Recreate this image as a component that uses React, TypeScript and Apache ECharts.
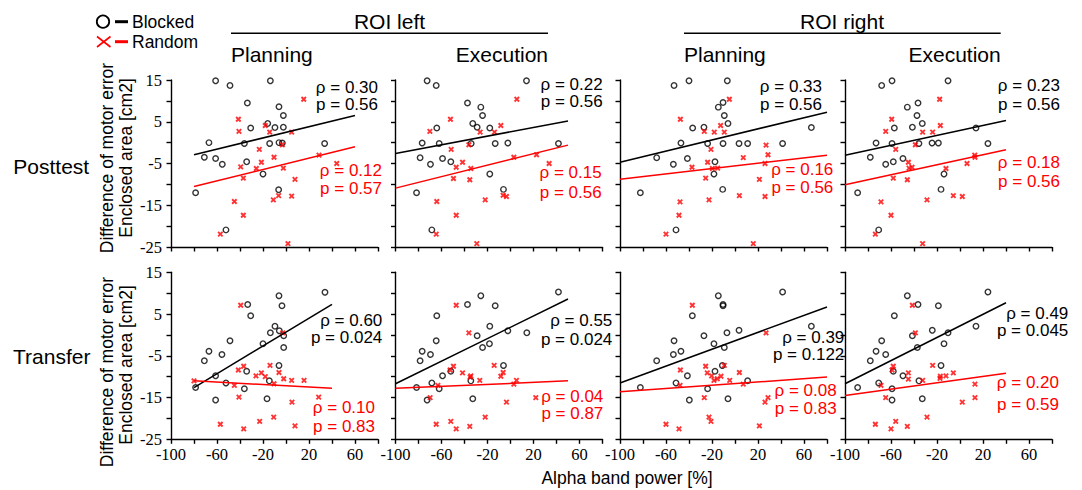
import React, { useEffect, useRef } from "react";
import * as echarts from "echarts";

const SANS = "'Liberation Sans', Arial, Helvetica, sans-serif";
const SERIF = "'Liberation Serif', 'Times New Roman', Times, serif";

// ---------- tick labels ----------
const xTickLabels = [-100, -60, -20, 20, 60];
const yTickLabels = [15, 5, -5, -15, -25];

// ---------- data: Posttest, ROI left, Planning ----------
const postLPlanBlocked = [[-61.2,14.8],[-48.7,13.7],[-13.6,14.8],[-33.6,9.5],[-6.1,8.6],[-2.3,6.5],[-15.9,4.6],[-30.7,3.5],[-9.6,3.6],[-2.3,3.7],[-67,0],[-36.2,-0.2],[-14.2,-0.2],[-6.1,0],[-3.2,-0.1],[33.6,-0.2],[-71,-3.5],[-61.2,-3.8],[-55.4,-5.2],[-34.2,-4.6],[-20,-7.5],[-78.6,-12],[-6.4,-11.3],[-52.2,-20.9]];
const postLPlanRandom = [[15.4,10.4],[-41.4,5.6],[-40.9,2.7],[-18,4.1],[-14.2,2.5],[4.9,2.5],[-3.2,-0.5],[-23.2,-1.6],[-10.4,-3.5],[-21.4,-4.7],[-39.4,-5.8],[-25.8,-6.2],[-2.3,-6.1],[-37.1,-8.5],[7.8,-8.8],[28.7,-3],[44.1,-5],[-6.4,-12.7],[-11,-13.7],[4.9,-12.8],[-44.9,-14.1],[-37.1,-17.4],[-57.1,-21.9],[1.7,-24.2]];
const postLPlanFitB = [[-80,-2.9],[60,6.5]];
const postLPlanFitR = [[-80,-10.5],[60,-1.0]];

// ---------- Posttest, ROI left, Execution ----------
const postLExecBlocked = [[-72.5,14.8],[-64.6,13.7],[13.9,14.8],[-37.4,9.5],[-25.8,8.5],[-24.3,6.5],[-32.8,4.6],[-29,3.7],[-18,3.5],[-64.1,3.5],[-76.8,-0.1],[-62,-0.2],[-34.2,-0.2],[-13.3,-0.2],[-2.3,-0.1],[41.7,-0.2],[-78.6,-3.6],[-59.1,-3.8],[-69.6,-5.2],[-51.9,-4.6],[-18,-7.5],[-81.7,-12],[-6.1,-11.2],[-68.4,-20.9]];
const postLExecRandom = [[5.5,10.4],[-52.2,5.6],[-70.1,2.7],[-8.4,4.1],[-26.4,2.5],[-13.9,2.5],[-36.2,-0.5],[-51.6,-1.6],[2.9,-3.5],[-41.7,-4.7],[-47.2,-5.9],[-34.5,-6.2],[22.6,-2.9],[33.6,-5],[-49.6,-8.6],[-35.4,-8.9],[-6.4,-12.6],[-3.5,-12.9],[-22,-13.7],[-64.1,-14.1],[-47.2,-17.4],[-64.6,-21.9],[-29.3,-24.2]];
const postLExecFitB = [[-100,-2.6],[50,5.2]];
const postLExecFitR = [[-100,-10.9],[50,-0.6]];

// ---------- Posttest, ROI right, Planning ----------
const postRPlanBlocked = [[-53,13.7],[-40,14.8],[-6.7,14.8],[-10.4,9.6],[-14.5,8.5],[-9.3,6.5],[-6.1,4.6],[-36.8,3.5],[-27,3.7],[66.4,3.6],[-47,-0.1],[-23.8,-0.2],[-10.4,-0.2],[3.5,-0.2],[11,-0.2],[41.4,-0.2],[-68.1,-3.6],[-41.4,-3.8],[-53.6,-5.2],[-17.4,-4.6],[-18.3,-7.5],[-82.3,-12],[-10.7,-11.2],[-51.3,-20.9]];
const postRPlanRandom = [[-4.9,10.4],[-47.5,5.6],[-26.7,2.7],[-12.5,4.1],[-18,2.5],[-9.3,2.5],[-20.9,-1.6],[27,-0.6],[7.2,-3.6],[28.7,-2.9],[-23.8,-4.7],[26.1,-5],[-37.4,-5.9],[-19.7,-6.2],[-15.1,-6.1],[-25.5,-8.5],[21.2,-8.8],[3.8,-12.7],[26.1,-12.9],[-22.6,-13.7],[-47.8,-14.2],[-48.7,-17.4],[-60,-21.9],[15.9,-24.2]];
const postRPlanFitB = [[-100,-4.7],[80,7.3]];
const postRPlanFitR = [[-100,-8.8],[80,-3.0]];

// ---------- Posttest, ROI right, Execution ----------
const postRExecBlocked = [[-68.1,13.7],[-59.1,14.8],[-10.4,14.8],[-36.5,9.5],[-45.8,8.5],[-37.4,6.5],[-32.8,4.6],[-57.1,3.5],[-41.4,3.7],[13.9,3.5],[-73,-0.1],[-59.1,-0.2],[-35.7,-0.2],[-24.3,-0.1],[-18.8,-0.1],[24.3,-0.2],[-78,-3.5],[-58,-4.6],[-64.6,-5.2],[-49.6,-3.8],[-13.9,-7.5],[-89,-12],[-16.5,-11.2],[-70.7,-20.9]];
const postRExecRandom = [[-17.7,10.4],[-59.4,5.6],[-64.6,2.7],[-17.1,4.1],[-32.5,2.5],[-23.8,2.5],[-38.8,-0.5],[-55.9,-1.6],[12.8,-3],[13,-3.5],[-44.9,-4.7],[-41.7,-5.9],[-44.3,-6.1],[6.1,-5],[-12.2,-6.2],[-58,-8.5],[-45.8,-8.9],[-5.8,-12.7],[2,-12.9],[-28.7,-13.7],[-68.7,-14.2],[-60,-17.4],[-73.6,-21.9],[-32.5,-24.2]];
const postRExecFitB = [[-100,-3.0],[40,5.3]];
const postRExecFitR = [[-100,-10.1],[40,-1.7]];

// ---------- Transfer, ROI left, Planning ----------
const transLPlanBlocked = [[33.9,10.2],[-6.1,9.4],[-33.3,7.3],[-3.5,7],[-30.7,4.6],[-9.6,2.1],[-5.8,1],[-13.6,0.5],[-2,-0.2],[-48.7,-1.4],[-20,-2.1],[-67,-3.9],[-2,-3],[-55.7,-4.7],[-71,-6.2],[-6.1,-7.3],[-34.2,-8.7],[-61.2,-9.8],[-52.2,-11.5],[-14.5,-11],[-78.6,-12.6],[-36.2,-12.9],[-61.2,-15.6],[-16.5,-15.3]];
const transLPlanRandom = [[-39.4,7.1],[-2.9,0.5],[-13.9,-7.3],[-36.8,-7.5],[-41.4,-8.4],[-21.4,-9.1],[-26.1,-9.8],[-18,-10],[-6.1,-9],[-2,-10.5],[4.9,-10.9],[15.7,-10.9],[-10.4,-11.7],[-44.9,-12.1],[-40.9,-14.9],[5.2,-16.1],[28.4,-14.9],[-10.7,-19.7],[-22.9,-20.7],[-57.1,-21.4],[-36.8,-22.5],[7.8,-21.8],[-80,-11]];
const transLPlanFitB = [[-80,-12.6],[40,7.3]];
const transLPlanFitR = [[-80,-11.0],[40,-12.8]];

// ---------- Transfer, ROI left, Execution ----------
const transLExecBlocked = [[41.7,10.3],[-25.8,9.4],[-37.4,7.3],[-13.3,7],[-64.1,4.6],[-18,2.1],[-2.3,1],[14.2,0.5],[-29,-0.2],[-64.6,-1.4],[-18.3,-2.1],[-76.8,-3.9],[-24.3,-3],[-69.6,-4.7],[-78.6,-6.2],[-6.1,-7.3],[-51.9,-8.7],[-59.1,-9.8],[-68.4,-11.5],[-34.5,-11],[-81.7,-12.6],[-62,-12.9],[-72.5,-15.6],[-32.8,-15.3]];
const transLExecRandom = [[-47.2,7.1],[-36.2,0.5],[-14.2,-7.3],[-49.6,-7.5],[-52.5,-8.4],[-41.7,-9.1],[-34.5,-9.8],[-35.1,-10.1],[-6.4,-9],[-8.4,-9.9],[5.2,-10.9],[-26.7,-10.9],[2.9,-11.8],[-63.2,-12.1],[-69.9,-15],[-3.5,-16.1],[22,-15],[-22,-19.7],[-51.9,-20.7],[-64.6,-21.4],[-35.4,-21.9],[-47.2,-22.5]];
const transLExecFitB = [[-100,-11.7],[50,8.6]];
const transLExecFitR = [[-100,-12.8],[50,-11.0]];

// ---------- Transfer, ROI right, Planning ----------
const transRPlanBlocked = [[41.4,10.3],[-14.5,9.4],[-10.4,7.3],[-10.4,7],[-37.1,4.6],[66.4,2.1],[3.5,1.1],[-7,0.5],[-27,-0.2],[-53,-1.4],[-18.3,-2.1],[-47,-3.9],[-9.3,-3],[-53.6,-4.7],[-68.1,-6.2],[-11,-7.3],[-17.4,-8.7],[-41.4,-9.8],[-51.3,-11.5],[11,-11],[-82.3,-12.6],[-23.8,-12.9],[-39.7,-15.6],[-6.1,-15.3]];
const transRPlanRandom = [[-37.1,7.1],[27,0.5],[-9.3,-7.3],[-25.5,-7.5],[-47.5,-8.4],[-24.1,-9.1],[-20.3,-9.8],[-12.2,-9.9],[3.8,-9],[-18.3,-10.9],[-15.4,-10.5],[-4.6,-10.9],[7.2,-11.8],[-47.8,-12.1],[-26.7,-15],[26.1,-16.1],[28.7,-15],[-22.6,-19.7],[-20.9,-20.7],[-60,-21.4],[21.2,-21.8],[-48.7,-22.5]];
const transRPlanFitB = [[-100,-11.5],[80,6.7]];
const transRPlanFitR = [[-100,-13.6],[80,-10.1]];

// ---------- Transfer, ROI right, Execution ----------
const transRExecBlocked = [[24.3,10.3],[-45.8,9.4],[-36.5,7.3],[-18.8,7],[-57.1,4.6],[13.9,2.1],[-24.1,1.1],[-10.4,0.5],[-41.4,-0.2],[-68.1,-1.4],[-13.9,-2.1],[-73,-3.9],[-37.1,-3],[-64.6,-4.7],[-78,-6.2],[-16.5,-7.3],[-58,-8.7],[-49.6,-9.8],[-70.7,-11.5],[-35.7,-11],[-89,-12.6],[-59.1,-12.9],[-59.1,-15.6],[-32.8,-15.3]];
const transRExecRandom = [[-41.4,7.1],[-38.8,0.5],[-23.8,-7.3],[-58,-7.5],[-59.1,-8.4],[-5.8,-9.1],[-44.9,-9.1],[-17.1,-9.9],[-12.2,-9.8],[-17.4,-10.4],[-44.9,-10.6],[-32.5,-10.9],[13,-11.8],[-68.7,-12.1],[-64.6,-15],[2,-16.1],[13,-15],[-28.7,-19.7],[-55.9,-20.7],[-73.6,-21.4],[-45.8,-21.9],[-60,-22.5]];
const transRExecFitB = [[-100,-11.7],[40,7.7]];
const transRExecFitR = [[-100,-14.5],[40,-9.2]];

// ---------- statistics ----------
const rhoBlocked = ["0.30", "0.22", "0.33", "0.23", "0.60", "0.55", "0.39", "0.49"];
const pBlocked = ["0.56", "0.56", "0.56", "0.56", "0.024", "0.024", "0.122", "0.045"];
const rhoRandom = ["0.12", "0.15", "0.16", "0.18", "0.10", "0.04", "0.08", "0.20"];
const pRandom = ["0.57", "0.56", "0.56", "0.56", "0.83", "0.87", "0.83", "0.59"];

// ---------- texts ----------
const roiTitles = ["ROI left", "ROI right"];
const phaseTitles = ["Planning", "Execution"];
const rowTitles = ["Posttest", "Transfer"];
const yTitle1 = "Difference of motor error";
const yTitle2 = "Enclosed area [cm2]";
const xTitle = "Alpha band power [%]";
const legendNames = ["Blocked", "Random"];

const panelsData = [
  [postLPlanBlocked, postLPlanRandom, postLPlanFitB, postLPlanFitR],
  [postLExecBlocked, postLExecRandom, postLExecFitB, postLExecFitR],
  [postRPlanBlocked, postRPlanRandom, postRPlanFitB, postRPlanFitR],
  [postRExecBlocked, postRExecRandom, postRExecFitB, postRExecFitR],
  [transLPlanBlocked, transLPlanRandom, transLPlanFitB, transLPlanFitR],
  [transLExecBlocked, transLExecRandom, transLExecFitB, transLExecFitR],
  [transRPlanBlocked, transRPlanRandom, transRPlanFitB, transRPlanFitR],
  [transRExecBlocked, transRExecRandom, transRExecFitB, transRExecFitR],
];

// ---------- layout ----------
const colLeft = [171, 395.5, 620, 845];
const rowTop = [80, 272.3];
const GW = 207;
const GH = 167;
const ANN_FONT = 17;
// [blackRight, blackY1, blackY2, redRight, redY1, redY2]
const annPos = [
  [378, 88.3, 103.3, 382, 170.3, 188.7],
  [602.7, 84.5, 101.7, 601.7, 172.5, 192.2],
  [822, 86.2, 104.2, 833.3, 170.3, 187],
  [1060, 85.3, 104.2, 1060, 162.5, 181],
  [382.3, 320.5, 337.2, 375, 407, 426.5],
  [612.3, 320.8, 339.5, 603.3, 397.2, 412.8],
  [844.3, 337.2, 354.7, 836.7, 390.5, 408],
  [1068.3, 313.8, 330, 1059, 382.8, 404.5],
];

const RED = "#ff0000";
const BLACK = "#000000";
const CROSS = "path://M0,0L10,10M10,0L0,10";

function txt(text: string, x: number, y: number, size: number, color: string, align: string, extra: any = {}, lh?: number) {
  return {
    type: "text",
    x,
    y,
    silent: true,
    ...extra,
    style: {
      text,
      x: 0,
      y: 0,
      fill: color,
      font: `${size}px ${SANS}`,
      fontSize: size,
      fontFamily: SANS,
      lineHeight: lh ?? size,
      textAlign: align,
      textVerticalAlign: "middle",
      align,
      verticalAlign: "middle",
    },
  };
}

// two stacked lines centred on the midpoint, spaced at least one font size apart
function pair(l1: string, l2: string, right: number, y1: number, y2: number, color: string): any[] {
  const gap = Math.max(y2 - y1, ANN_FONT + 0.5);
  const mid = (y1 + y2) / 2;
  return [
    txt(l1, right, mid - gap / 2, ANN_FONT, color, "right"),
    txt(l2, right, mid + gap / 2, ANN_FONT, color, "right"),
  ];
}

function buildOption() {
  const grid: any[] = [];
  const xAxis: any[] = [];
  const yAxis: any[] = [];
  const series: any[] = [];
  const graphic: any[] = [];

  panelsData.forEach((p, i) => {
    const row = Math.floor(i / 4);
    const col = i % 4;
    grid.push({ left: colLeft[col], top: rowTop[row], width: GW, height: GH, containLabel: false });
    xAxis.push({
      type: "value",
      gridIndex: i,
      min: -100,
      max: 80,
      interval: 20,
      splitLine: { show: false },
      axisLine: { show: true, onZero: false, lineStyle: { color: BLACK, width: 1.4 } },
      axisTick: { show: true, inside: false, length: 4.5, lineStyle: { color: BLACK, width: 1.4 } },
      axisLabel: {
        show: row === 1,
        showMinLabel: true,
        showMaxLabel: true,
        margin: 7,
        color: BLACK,
        fontFamily: SERIF,
        fontSize: 16.5,
        formatter: (v: number) => (xTickLabels.includes(v) ? String(v) : ""),
      },
    });
    yAxis.push({
      type: "value",
      gridIndex: i,
      min: -25,
      max: 15,
      interval: 5,
      splitLine: { show: false },
      axisLine: { show: true, onZero: false, lineStyle: { color: BLACK, width: 1.4 } },
      axisTick: { show: true, inside: false, length: 4.5, lineStyle: { color: BLACK, width: 1.4 } },
      axisLabel: {
        show: col === 0,
        showMinLabel: true,
        showMaxLabel: true,
        margin: 9,
        color: BLACK,
        fontFamily: SERIF,
        fontSize: 16.5,
        formatter: (v: number) => (yTickLabels.includes(v) ? String(v) : ""),
      },
    });
    const [blocked, random, fitB, fitR] = p;
    series.push({
      type: "scatter",
      xAxisIndex: i,
      yAxisIndex: i,
      data: blocked,
      symbol: "circle",
      symbolSize: 5.5,
      itemStyle: { color: "rgba(0,0,0,0)", borderColor: BLACK, borderWidth: 1.4 },
      silent: true,
    });
    series.push({
      type: "scatter",
      xAxisIndex: i,
      yAxisIndex: i,
      data: random,
      symbol: CROSS,
      symbolSize: 4.5,
      itemStyle: { color: "rgba(0,0,0,0)", borderColor: RED, borderWidth: 1.9 },
      silent: true,
    });
    series.push({
      type: "line",
      xAxisIndex: i,
      yAxisIndex: i,
      data: fitB,
      symbol: "none",
      lineStyle: { color: BLACK, width: 1.5 },
      silent: true,
    });
    series.push({
      type: "line",
      xAxisIndex: i,
      yAxisIndex: i,
      data: fitR,
      symbol: "none",
      lineStyle: { color: RED, width: 1.5 },
      silent: true,
    });

    const a = annPos[i];
    graphic.push(...pair(`ρ = ${rhoBlocked[i]}`, `p = ${pBlocked[i]}`, a[0], a[1], a[2], BLACK));
    graphic.push(...pair(`ρ = ${rhoRandom[i]}`, `p = ${pRandom[i]}`, a[3], a[4], a[5], RED));
  });

  // headers
  graphic.push(txt(roiTitles[0], 389.5, 21.7, 21, BLACK, "center"));
  graphic.push(txt(roiTitles[1], 842, 21.7, 21, BLACK, "center"));
  graphic.push({ type: "line", silent: true, shape: { x1: 231, y1: 33.3, x2: 548, y2: 33.3 }, style: { stroke: BLACK, lineWidth: 1.6 } });
  graphic.push({ type: "line", silent: true, shape: { x1: 684, y1: 33.3, x2: 1000.7, y2: 33.3 }, style: { stroke: BLACK, lineWidth: 1.6 } });
  graphic.push(txt(phaseTitles[0], 231, 54, 21, BLACK, "left"));
  graphic.push(txt(phaseTitles[1], 548, 54, 21, BLACK, "right"));
  graphic.push(txt(phaseTitles[0], 684, 54, 21, BLACK, "left"));
  graphic.push(txt(phaseTitles[1], 1000.7, 54, 21, BLACK, "right"));

  // row titles
  graphic.push(txt(rowTitles[0], 13.3, 166, 21, BLACK, "left"));
  graphic.push(txt(rowTitles[1], 13, 356.7, 21, BLACK, "left"));

  // y titles
  const rot = { rotation: Math.PI / 2 };
  graphic.push(txt(yTitle1, 107, 158, 17.5, BLACK, "center", rot));
  graphic.push(txt(yTitle2, 126, 158, 17.5, BLACK, "center", rot));
  graphic.push(txt(yTitle1, 107, 372, 17.5, BLACK, "center", rot));
  graphic.push(txt(yTitle2, 126, 365, 17.5, BLACK, "center", rot));

  // x title
  graphic.push(txt(xTitle, 627, 477.5, 17.5, BLACK, "center"));

  // legend
  graphic.push({ type: "circle", silent: true, shape: { cx: 103, cy: 21.7, r: 6.2 }, style: { fill: "none", stroke: BLACK, lineWidth: 1.8 } });
  graphic.push({ type: "line", silent: true, shape: { x1: 115, y1: 21.7, x2: 128, y2: 21.7 }, style: { stroke: BLACK, lineWidth: 3 } });
  graphic.push(txt(legendNames[0], 132, 21.7, 17.5, BLACK, "left"));
  graphic.push({ type: "line", silent: true, shape: { x1: 97, y1: 36.5, x2: 110.5, y2: 47 }, style: { stroke: RED, lineWidth: 1.6 } });
  graphic.push({ type: "line", silent: true, shape: { x1: 97, y1: 47, x2: 110.5, y2: 36.5 }, style: { stroke: RED, lineWidth: 1.6 } });
  graphic.push({ type: "line", silent: true, shape: { x1: 115, y1: 41.7, x2: 128, y2: 41.7 }, style: { stroke: RED, lineWidth: 3 } });
  graphic.push(txt(legendNames[1], 132, 41.7, 17.5, BLACK, "left"));

  return {
    animation: false,
    backgroundColor: "#ffffff",
    grid,
    xAxis,
    yAxis,
    series,
    graphic,
  };
}

export default function App() {
  const ref = useRef<HTMLDivElement>(null);
  useEffect(() => {
    if (!ref.current) return;
    const chart = echarts.init(ref.current, null, { renderer: "svg" });
    chart.setOption(buildOption() as any);
    return () => chart.dispose();
  }, []);
  return (
    <div
      ref={ref}
      style={{ position: "absolute", left: 0, top: 0, width: 1082, height: 490, background: "#fff" }}
    />
  );
}
